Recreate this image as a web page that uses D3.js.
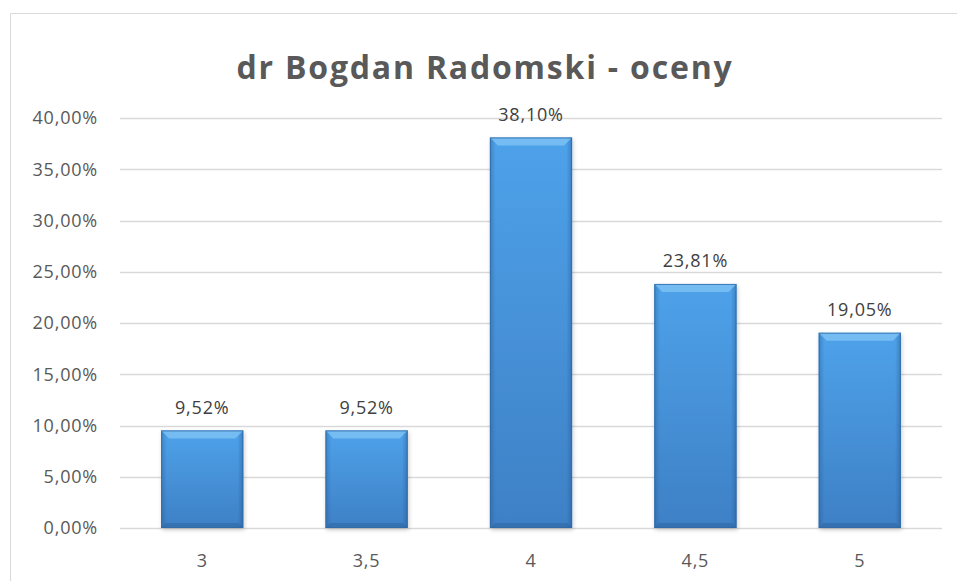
<!DOCTYPE html>
<html>
<head>
<meta charset="utf-8">
<script src="https://cdn.jsdelivr.net/npm/d3@7"></script>
<style>
    body { margin: 0; background: #fff; }
    svg { display: block; }
</style>
</head>
<body>
<div id="chart"></div>
<script>
var grades = ['3', '3,5', '4', '4,5', '5'],
    shares = [9.52, 9.52, 38.10, 23.81, 19.05],
    yTicks = [0, 5, 10, 15, 20, 25, 30, 35, 40],
    title = 'dr Bogdan Radomski - oceny';

var width = 957,
    height = 581,
    margin = { top: 118, right: 15, bottom: 53, left: 120 },
    font = '"Open Sans", "Noto Sans", sans-serif',
    grey = '#595959',
    svg = d3.select('#chart').append('svg')
        .attr('width', width)
        .attr('height', height);

var x = d3.scaleBand()
    .domain(grades)
    .range([margin.left, width - margin.right])
    .paddingInner(0.5)
    .paddingOuter(0.25);

var y = d3.scaleLinear()
    .domain([0, 40])
    .range([height - margin.bottom, margin.top]);

var defs = svg.append('defs');
var grad = defs.append('linearGradient')
    .attr('id', 'barFill')
    .attr('x1', 0).attr('y1', 0).attr('x2', 0).attr('y2', 1);
grad.append('stop').attr('offset', '0%').attr('stop-color', '#4ea2ea');
grad.append('stop').attr('offset', '100%').attr('stop-color', '#3e80c5');

var side = defs.append('linearGradient')
    .attr('id', 'sideFill')
    .attr('x1', 0).attr('y1', 0).attr('x2', 1).attr('y2', 0);
side.append('stop').attr('offset', '0%').attr('stop-color', '#1f4f85').attr('stop-opacity', 0.35);
side.append('stop').attr('offset', '7%').attr('stop-color', '#1f4f85').attr('stop-opacity', 0);
side.append('stop').attr('offset', '93%').attr('stop-color', '#1f4f85').attr('stop-opacity', 0);
side.append('stop').attr('offset', '100%').attr('stop-color', '#1f4f85').attr('stop-opacity', 0.4);

var shadow = defs.append('filter').attr('id', 'shadow')
    .attr('x', '-10%').attr('y', '-10%').attr('width', '125%').attr('height', '125%');
shadow.append('feGaussianBlur').attr('in', 'SourceAlpha').attr('stdDeviation', 2);
shadow.append('feOffset').attr('dx', 1).attr('dy', 2).attr('result', 'b');
shadow.append('feComponentTransfer').append('feFuncA').attr('type', 'linear').attr('slope', 0.2);
var mrg = shadow.append('feMerge');
mrg.append('feMergeNode');
mrg.append('feMergeNode').attr('in', 'SourceGraphic');

// outer frame (only top and left edges are visible in the picture)
svg.append('path')
    .attr('d', 'M10.5,' + height + 'V13.5H' + width)
    .attr('fill', 'none')
    .attr('stroke', '#d9d9d9');

svg.append('text')
    .attr('x', 485)
    .attr('y', 79)
    .attr('text-anchor', 'middle')
    .style('font-family', font)
    .style('font-size', '32px')
    .style('letter-spacing', '1.8px')
    .style('font-weight', 'bold')
    .style('fill', grey)
    .text(title);

// gridlines
svg.append('g').selectAll('line')
    .data(yTicks)
    .enter()
    .append('line')
    .attr('x1', margin.left)
    .attr('x2', width - margin.right)
    .attr('y1', function (d) { return Math.round(y(d)) + 0.5; })
    .attr('y2', function (d) { return Math.round(y(d)) + 0.5; })
    .style('stroke', '#d9d9d9')
    .style('stroke-width', 1.3);

svg.append('g').selectAll('text')
    .data(yTicks)
    .enter()
    .append('text')
    .attr('x', 98)
    .attr('y', function (d) { return y(d); })
    .attr('dy', '0.35em')
    .attr('text-anchor', 'end')
    .style('font-family', font)
    .style('font-size', '18px')
    .style('letter-spacing', '0.8px')
    .style('fill', grey)
    .text(function (d) { return d.toFixed(2).replace('.', ',') + '%'; });

svg.append('g').selectAll('text')
    .data(grades)
    .enter()
    .append('text')
    .attr('x', function (d) { return x(d) + x.bandwidth() / 2; })
    .attr('y', 561)
    .attr('dy', '0.35em')
    .attr('text-anchor', 'middle')
    .style('font-family', font)
    .style('font-size', '18px')
    .style('letter-spacing', '0.8px')
    .style('fill', grey)
    .text(function (d) { return d; });

// bars with a bevelled look
var bars = svg.append('g').selectAll('g')
    .data(shares)
    .enter()
    .append('g')
    .attr('filter', 'url(#shadow)');

function corners(d, i) {
    var x0 = x(grades[i]);
    return { x0: x0, x1: x0 + x.bandwidth(), y0: y(d), y1: y(0) };
}

bars.append('rect')
    .attr('x', function (d, i) { return x(grades[i]); })
    .attr('y', function (d) { return y(d); })
    .attr('width', x.bandwidth())
    .attr('height', function (d) { return y(0) - y(d); })
    .style('fill', 'url(#barFill)');
bars.append('rect')
    .attr('x', function (d, i) { return x(grades[i]); })
    .attr('y', function (d) { return y(d); })
    .attr('width', x.bandwidth())
    .attr('height', function (d) { return y(0) - y(d); })
    .style('fill', 'url(#sideFill)');

var bev = 8;
// top facet (light)
bars.append('path')
    .attr('d', function (d, i) {
        var c = corners(d, i);
        return 'M' + c.x0 + ',' + c.y0 + 'L' + c.x1 + ',' + c.y0 +
            'L' + (c.x1 - bev) + ',' + (c.y0 + bev) + 'L' + (c.x0 + bev) + ',' + (c.y0 + bev) + 'Z';
    })
    .style('fill', '#86c8f7')
    .style('opacity', 0.7);
// bottom facet
bars.append('path')
    .attr('d', function (d, i) {
        var c = corners(d, i);
        return 'M' + c.x0 + ',' + c.y1 + 'L' + (c.x0 + 5) + ',' + (c.y1 - 5) +
            'L' + (c.x1 - 5) + ',' + (c.y1 - 5) + 'L' + c.x1 + ',' + c.y1 + 'Z';
    })
    .style('fill', '#2b5f98')
    .style('opacity', 0.45);
bars.append('rect')
    .attr('x', function (d, i) { return x(grades[i]) + 0.5; })
    .attr('y', function (d) { return y(d) + 0.5; })
    .attr('width', x.bandwidth() - 1)
    .attr('height', function (d) { return y(0) - y(d) - 1; })
    .style('fill', 'none')
    .style('stroke', '#2f6aa6')
    .style('stroke-opacity', 0.8);

svg.append('g').selectAll('text')
    .data(shares)
    .enter()
    .append('text')
    .attr('x', function (d, i) { return x(grades[i]) + x.bandwidth() / 2; })
    .attr('y', function (d) { return y(d) - 23; })
    .attr('dy', '0.35em')
    .attr('text-anchor', 'middle')
    .style('font-family', font)
    .style('font-size', '18px')
    .style('letter-spacing', '0.8px')
    .style('fill', '#404040')
    .text(function (d) { return d.toFixed(2).replace('.', ',') + '%'; });
</script>
</body>
</html>
